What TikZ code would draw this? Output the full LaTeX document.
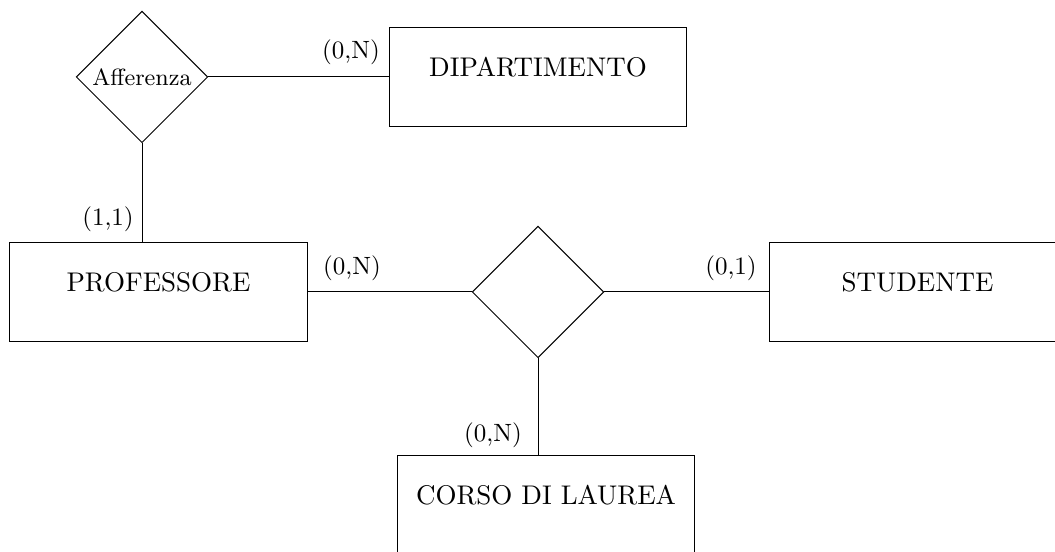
\documentclass[tikz,border=0pt]{standalone}
\usetikzlibrary{shapes.geometric}
\tikzset{
  entity/.style={draw, rectangle, minimum width=118.8pt, minimum height=39.6pt,
    font=\fontsize{10.8}{13}\selectfont, text height=7.4pt, text depth=8pt},
  relation/.style={draw, diamond, aspect=1, inner sep=0pt, minimum size=52.6pt},
  card/.style={inner sep=1pt}
}
\begin{document}
\begin{tikzpicture}[x=0.4pt,y=-0.4pt]
    \useasboundingbox (0,0) rectangle (1055,552);
    \node[relation] (aff) at (142,77) {\fontsize{9.4}{11}\selectfont Afferenza};
    \node[entity] (dip) at (538,77) {DIPARTIMENTO};
    \node[entity] (prof) at (158.5,292) {PROFESSORE};
    \node[relation] (rel) at (538,292) {};
    \node[entity] (stud) at (917.5,292) {STUDENTE};
    \node[entity] (corso) at (546,505.5) {CORSO DI LAUREA};

    \draw (aff.east) -- (dip.west);
    \draw (aff.south) -- (aff.south |- prof.north);
    \draw (prof.east) -- (rel.west);
    \draw (rel.east) -- (stud.west);
    \draw (rel.south) -- (rel.south |- corso.north);

    \node[card] (c1) at (351,52) {(0,N)};
    \node[card] (c2) at (108,219) {(1,1)};
    \node[card] (c3) at (352,268) {(0,N)};
    \node[card] (c4) at (731,268) {(0,1)};
    \node[card] (c5) at (493,435) {(0,N)};
\end{tikzpicture}
\end{document}
